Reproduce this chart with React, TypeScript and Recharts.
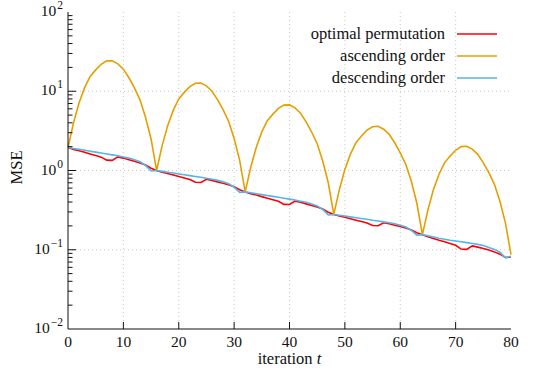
import React from 'react';
import { LineChart, Line, XAxis, YAxis, ReferenceLine, Legend } from 'recharts';

const iterations = [
  0, 1, 2, 3, 4, 5, 6, 7, 8, 9, 10, 11, 12, 13, 14, 15, 16, 17, 18, 19, 20,
  21, 22, 23, 24, 25, 26, 27, 28, 29, 30, 31, 32, 33, 34, 35, 36, 37, 38, 39, 40,
  41, 42, 43, 44, 45, 46, 47, 48, 49, 50, 51, 52, 53, 54, 55, 56, 57, 58, 59, 60,
  61, 62, 63, 64, 65, 66, 67, 68, 69, 70, 71, 72, 73, 74, 75, 76, 77, 78, 79, 80,
];

const optimalPermutation = [
  1.95, 1.848, 1.776, 1.695, 1.618, 1.544, 1.473, 1.351, 1.341, 1.483, 1.434, 1.369, 1.306, 1.247, 1.174, 1.069,
  1.0,
  0.951, 0.917, 0.878, 0.84, 0.804, 0.77, 0.71, 0.706, 0.775, 0.751, 0.719, 0.689, 0.659, 0.623, 0.571,
  0.537,
  0.51, 0.49, 0.468, 0.447, 0.427, 0.408, 0.374, 0.372, 0.41, 0.397, 0.379, 0.362, 0.346, 0.326, 0.297,
  0.279,
  0.266, 0.257, 0.246, 0.236, 0.227, 0.218, 0.202, 0.201, 0.219, 0.213, 0.204, 0.196, 0.188, 0.178, 0.164,
  0.155,
  0.146, 0.139, 0.132, 0.126, 0.12, 0.114, 0.102, 0.101, 0.112, 0.108, 0.104, 0.099, 0.094, 0.088, 0.08,
  0.081,
];

const ascendingOrder = [
  1.95, 4.0, 7.14, 11.1, 15.4, 18.6, 21.9, 24.2, 24.3, 22.2, 19.0, 14.8, 11.0, 7.8, 4.7, 2.5, 1.0,
  2.06, 3.68, 5.74, 7.99, 9.68, 11.45, 12.6, 12.7, 11.7, 10.0, 7.84, 5.85, 4.18, 2.54, 1.34, 0.537,
  1.1, 1.97, 3.07, 4.26, 5.14, 6.07, 6.68, 6.72, 6.17, 5.27, 4.11, 3.06, 2.18, 1.32, 0.7, 0.279,
  0.574, 1.03, 1.61, 2.24, 2.72, 3.23, 3.57, 3.61, 3.32, 2.86, 2.24, 1.67, 1.2, 0.73, 0.386, 0.155,
  0.319, 0.574, 0.897, 1.25, 1.52, 1.8, 2.0, 2.02, 1.86, 1.6, 1.25, 0.94, 0.67, 0.41, 0.217, 0.087,
];

const descendingOrder = [
  1.95, 1.898, 1.848, 1.8, 1.752, 1.706, 1.661, 1.618, 1.575, 1.533, 1.483, 1.434, 1.369, 1.289, 1.158, 0.987,
  1.0,
  0.975, 0.951, 0.928, 0.905, 0.883, 0.861, 0.84, 0.82, 0.799, 0.775, 0.751, 0.719, 0.68, 0.616, 0.53,
  0.537,
  0.523, 0.51, 0.496, 0.484, 0.471, 0.459, 0.447, 0.435, 0.424, 0.41, 0.397, 0.379, 0.357, 0.322, 0.275,
  0.279,
  0.272, 0.266, 0.26, 0.254, 0.248, 0.242, 0.236, 0.231, 0.225, 0.219, 0.213, 0.204, 0.194, 0.176, 0.153,
  0.155,
  0.15, 0.145, 0.14, 0.136, 0.132, 0.129, 0.126, 0.123, 0.12, 0.117, 0.113, 0.107, 0.101, 0.093, 0.079,
  0.083,
];

const seriesNames = ['optimal permutation', 'ascending order', 'descending order'];
const seriesColors = ['#ff0000', '#e69f00', '#56b4e9'];

const xTicks = [0, 10, 20, 30, 40, 50, 60, 70, 80];
const xGridTicks = [10, 20, 30, 40, 50, 60, 70];
const yMajorTicks = [0.01, 0.1, 1, 10, 100];
const yGridTicks = [0.1, 1, 10];
const yMinorMultipliers = [2, 3, 4, 5, 6, 7, 8, 9];

const yAllTicks: number[] = [];
yMajorTicks.forEach((m, i) => {
  yAllTicks.push(m);
  if (i < yMajorTicks.length - 1) yMinorMultipliers.forEach((k) => yAllTicks.push(+(m * k).toPrecision(6)));
});

const data = iterations.map((t, i) => ({
  t,
  opt: optimalPermutation[i],
  asc: ascendingOrder[i],
  desc: descendingOrder[i],
}));

const FONT = "'Liberation Serif', 'Times New Roman', serif";
const FS = 15.5;
const FS_TEXT = 16.5;
const AXIS = '#111';

const isMajor = (v: number) => {
  const e = Math.log10(v);
  return Math.abs(e - Math.round(e)) < 1e-6;
};
const isEdgeY = (v: number) => v <= 0.01000001 || v >= 99.9999;
const expText = (v: number) => {
  const e = Math.round(Math.log10(v));
  return e < 0 ? '\u2212' + Math.abs(e) : String(e);
};

const YTickLeft = (props: any) => {
  const { x, y, payload } = props;
  const v = payload.value;
  const major = isMajor(v);
  const len = major ? 8 : 4.5;
  return (
    <g>
      {!isEdgeY(v) && <line x1={x} x2={x + len} y1={y} y2={y} stroke={AXIS} strokeWidth={1} />}
      {major && (
        <text x={x - 5} y={y + 4} textAnchor="end" fontFamily={FONT} fontSize={FS} fill="#111">
          <tspan>10</tspan>
          <tspan dx={1} dy={-7} fontSize={11.5}>{expText(v)}</tspan>
        </text>
      )}
    </g>
  );
};

const YTickRight = (props: any) => {
  const { x, y, payload } = props;
  const v = payload.value;
  const len = isMajor(v) ? 8 : 4.5;
  if (isEdgeY(v)) return <g />;
  return <line x1={x} x2={x - len} y1={y} y2={y} stroke={AXIS} strokeWidth={1} />;
};

const XTickBottom = (props: any) => {
  const { x, y, payload } = props;
  const v = payload.value;
  const edge = v === 0 || v === 80;
  return (
    <g>
      {!edge && <line x1={x} x2={x} y1={y} y2={y - 7} stroke={AXIS} strokeWidth={1} />}
      <text x={x} y={y + 18} textAnchor="middle" fontFamily={FONT} fontSize={FS} fill="#111">
        {v}
      </text>
    </g>
  );
};

const XTickTop = (props: any) => {
  const { x, y, payload } = props;
  const v = payload.value;
  if (v === 0 || v === 80) return <g />;
  return <line x1={x} x2={x} y1={y} y2={y + 7} stroke={AXIS} strokeWidth={1} />;
};

const XTitle = (props: any) => {
  const vb = props.viewBox || {};
  return (
    <text x={vb.x + vb.width / 2} y={vb.y + 35} textAnchor="middle" fontFamily={FONT} fontSize={FS_TEXT} fill="#111">
      <tspan>iteration </tspan>
      <tspan fontStyle="italic">t</tspan>
    </text>
  );
};

const YTitle = (props: any) => {
  const vb = props.viewBox || {};
  const cx = 21.5;
  const cy = vb.y + vb.height / 2 - 3;
  return (
    <text x={cx} y={cy} textAnchor="middle" transform={`rotate(-90 ${cx} ${cy})`} fontFamily={FONT} fontSize={FS_TEXT} fill="#111">
      MSE
    </text>
  );
};

const LegendContent = (props: any) => {
  const payload = [...(props.payload || [])].sort(
    (a: any, b: any) => seriesNames.indexOf(a.value) - seriesNames.indexOf(b.value)
  );
  return (
    <div style={{ display: 'flex', flexDirection: 'column', alignItems: 'flex-end' }}>
      {payload.map((p: any) => (
        <div key={p.value} style={{ display: 'flex', alignItems: 'center', height: 22 }}>
          <span style={{ fontFamily: FONT, fontSize: FS_TEXT, color: '#111', lineHeight: '22px' }}>{p.value}</span>
          <svg width={40} height={4} style={{ marginLeft: 12 }}>
            <line x1={0} x2={40} y1={2} y2={2} stroke={p.color} strokeWidth={1.5} />
          </svg>
        </div>
      ))}
    </div>
  );
};

export default function App() {
  return (
    <div>
      <style>{`body{margin:0}`}</style>
      <LineChart width={540} height={371} data={data} margin={{ top: 12, right: 29, bottom: 0, left: 0 }}>
        {xGridTicks.map((v) => (
          <ReferenceLine key={'gx' + v} x={v} xAxisId="b" yAxisId="l" stroke="#c8c8c8" strokeDasharray="1 3" strokeWidth={1} />
        ))}
        {yGridTicks.map((v) => (
          <ReferenceLine key={'gy' + v} y={v} xAxisId="b" yAxisId="l" stroke="#c8c8c8" strokeDasharray="1 3" strokeWidth={1} />
        ))}
        <XAxis
          xAxisId="b"
          dataKey="t"
          type="number"
          domain={[0, 80]}
          ticks={xTicks}
          interval={0}
          height={42}
          tickSize={0}
          tickMargin={0}
          tickLine={false}
          axisLine={{ stroke: AXIS, strokeWidth: 1 }}
          tick={<XTickBottom />}
          label={XTitle}
        />
        <XAxis
          xAxisId="top"
          orientation="top"
          dataKey="t"
          type="number"
          domain={[0, 80]}
          ticks={xTicks}
          interval={0}
          height={0}
          tickSize={0}
          tickMargin={0}
          tickLine={false}
          axisLine={{ stroke: AXIS, strokeWidth: 1 }}
          tick={<XTickTop />}
        />
        <YAxis
          yAxisId="l"
          scale="log"
          type="number"
          domain={[0.01, 100]}
          allowDataOverflow
          ticks={yAllTicks}
          interval={0}
          width={68}
          tickSize={0}
          tickMargin={0}
          tickLine={false}
          axisLine={{ stroke: AXIS, strokeWidth: 1 }}
          tick={<YTickLeft />}
          label={YTitle}
        />
        <YAxis
          yAxisId="r"
          orientation="right"
          scale="log"
          type="number"
          domain={[0.01, 100]}
          allowDataOverflow
          ticks={yAllTicks}
          interval={0}
          width={0}
          tickSize={0}
          tickMargin={0}
          tickLine={false}
          axisLine={{ stroke: AXIS, strokeWidth: 1 }}
          tick={<YTickRight />}
        />
        <Legend
          layout="horizontal"
          verticalAlign="middle"
          align="center"
          content={LegendContent}
          wrapperStyle={{ position: 'absolute', top: 23, left: 238, width: 259, height: 66 }}
        />
        <Line xAxisId="b" yAxisId="l" type="linear" dataKey="opt" name={seriesNames[0]} stroke={seriesColors[0]} strokeWidth={1.6} dot={false} isAnimationActive={false} />
        <Line xAxisId="b" yAxisId="l" type="linear" dataKey="asc" name={seriesNames[1]} stroke={seriesColors[1]} strokeWidth={1.6} dot={false} isAnimationActive={false} />
        <Line xAxisId="b" yAxisId="l" type="linear" dataKey="desc" name={seriesNames[2]} stroke={seriesColors[2]} strokeWidth={1.6} dot={false} isAnimationActive={false} />
      </LineChart>
    </div>
  );
}
